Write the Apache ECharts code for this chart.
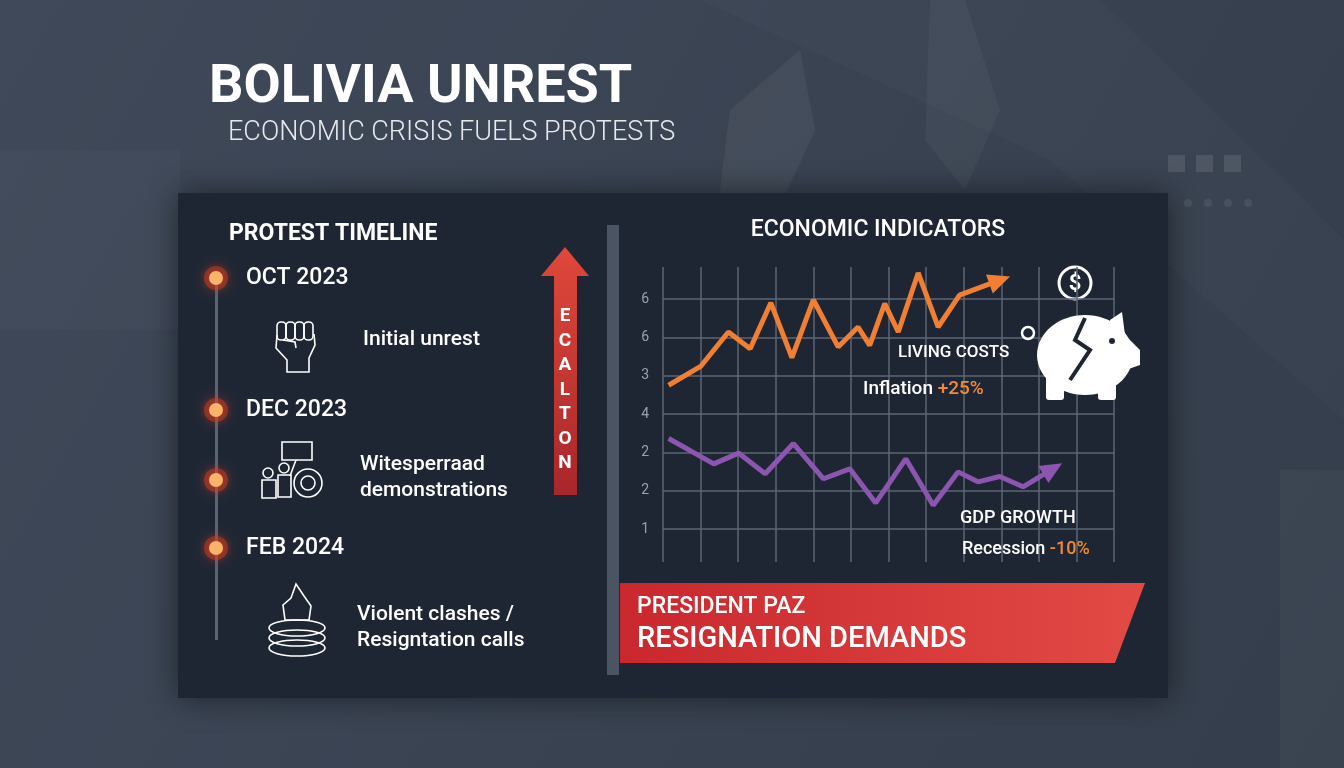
<!DOCTYPE html>
<html><head><meta charset="utf-8">
<script src="https://cdn.jsdelivr.net/npm/echarts@6/dist/echarts.min.js"></script>
<style>html,body{margin:0;padding:0;background:#3b4554}#c{width:1344px;height:768px}</style>
</head><body><div id="c"></div>
<script>
const yTickLabels = ['1','2','2','4','3','6','6'];
const livingCostsX = [0.15,1.0,1.74,2.32,2.87,3.43,4.0,4.66,5.19,5.5,5.9,6.26,6.79,7.32,7.89,8.96];
const livingCostsY = [4.75,5.24,6.14,5.70,6.90,5.47,6.98,5.75,6.27,5.79,6.88,6.14,7.68,6.27,7.10,7.49];
const gdpX = [0.15,1.35,2.01,2.72,3.47,4.27,4.97,5.66,6.46,7.19,7.85,8.38,8.96,9.58,10.37];
const gdpY = [3.36,2.70,2.98,2.44,3.23,2.31,2.57,1.68,2.83,1.62,2.49,2.23,2.37,2.10,2.57];
const timeline = [
  {date:'OCT 2023', y:278, label:['Initial unrest'], ly:340},
  {date:'DEC 2023', y:410, label:['Witesperraad','demonstrations'], ly:478},
  {date:'FEB 2024', y:548, label:['Violent clashes /','Resigntation calls'], ly:628}
];

function pairs(xs, ys, rot){
  return xs.map((x,i)=> i===xs.length-1 ? {value:[x,ys[i]], symbol:'triangle', symbolSize:[20,22], symbolRotate:rot} : [x,ys[i]]);
}
const F = 'Roboto, "Noto Sans", sans-serif';
const g = [];
g.push({type:'rect',shape:{x:0,y:0,width:1344,height:768},style:{fill:{type:'linear',x:0,y:0,x2:1,y2:1,colorStops:[{offset:0,color:'#3f4959'},{offset:1,color:'#343d4b'}]}},z:-10});
g.push({type:'polygon',shape:{points:[[0,150],[180,150],[180,330],[0,330]]},style:{fill:'rgba(255,255,255,0.02)'},z:-9});
g.push({type:'polygon',shape:{points:[[700,0],[1100,0],[1344,240],[1344,420],[1050,160]]},style:{fill:'rgba(255,255,255,0.02)'},z:-9});
g.push({type:'polygon',shape:{points:[[730,110],[800,50],[815,130],[760,250],[715,230]]},style:{fill:'rgba(255,255,255,0.05)'},z:-9});
g.push({type:'polygon',shape:{points:[[930,0],[965,0],[1000,110],[965,190],[925,140]]},style:{fill:'rgba(255,255,255,0.04)'},z:-9});
g.push({type:'polygon',shape:{points:[[1280,470],[1344,470],[1344,768],[1280,768]]},style:{fill:'rgba(255,255,255,0.03)'},z:-9});
[[1168,155],[1196,155],[1224,155]].forEach(p=>g.push({type:'rect',shape:{x:p[0],y:p[1],width:17,height:17},style:{fill:'rgba(255,255,255,0.1)'},z:-9}));
[1188,1208,1228,1248].forEach(x=>g.push({type:'circle',shape:{cx:x,cy:203,r:4},style:{fill:'rgba(255,255,255,0.08)'},z:-9}));
g.push({type:'rect',shape:{x:178,y:193,width:990,height:505},style:{fill:'#1f2633',shadowBlur:30,shadowColor:'rgba(0,0,0,0.5)'},z:-5});
g.push({type:'rect',shape:{x:607,y:225,width:12,height:450},style:{fill:'#4a5463'},z:-4});
g.push({type:'text',style:{text:'BOLIVIA UNREST',x:209,y:88,fill:'#fff',font:'bold 54px '+F,verticalAlign:'middle'}});
g.push({type:'text',style:{text:'ECONOMIC CRISIS FUELS PROTESTS',x:228,y:133,fill:'#e6e8ec',font:'300 27px '+F,verticalAlign:'middle'}});
g.push({type:'text',style:{text:'PROTEST TIMELINE',x:229,y:234,fill:'#fff',font:'bold 23px '+F,verticalAlign:'middle'}});
g.push({type:'rect',shape:{x:215,y:280,width:3,height:360},style:{fill:'#5a6372'},z:0});
[278,410,480,548].forEach(y=>{
  g.push({type:'circle',shape:{cx:216,cy:y,r:12},style:{fill:'rgba(220,60,30,0.45)',shadowBlur:10,shadowColor:'#e04020'},z:1});
  g.push({type:'circle',shape:{cx:216,cy:y,r:7},style:{fill:'#fbb36a'},z:2});
});
timeline.forEach((t,i)=>{
  g.push({type:'text',style:{text:t.date,x:246,y:t.y,fill:'#fff',font:'500 23px '+F,verticalAlign:'middle'}});
  g.push({type:'text',style:{text:t.label.join('\n'),x:i===0?363:(i===1?360:357),y:t.ly,fill:'#fff',font:'500 21px '+F,verticalAlign:'middle',lineHeight:26}});
});
const ic = {stroke:'#fff',fill:'none',lineWidth:1.6};
// fist
[0,1,2,3].forEach(k=>g.push({type:'rect',shape:{x:277+k*9,y:322,width:9,height:18,r:4},style:ic}));
g.push({type:'polyline',shape:{points:[[277,335],[276,348],[287,360],[287,372],[309,372],[309,358],[315,345],[314,334]]},style:ic});
g.push({type:'polyline',shape:{points:[[283,340],[295,342],[296,348]]},style:ic});
// demonstrators
g.push({type:'rect',shape:{x:282,y:442,width:30,height:18},style:ic});
g.push({type:'circle',shape:{cx:308,cy:483,r:14},style:ic});
g.push({type:'circle',shape:{cx:308,cy:483,r:7},style:ic});
g.push({type:'circle',shape:{cx:268,cy:473,r:5},style:ic});
g.push({type:'rect',shape:{x:262,y:480,width:14,height:18},style:ic});
g.push({type:'circle',shape:{cx:284,cy:468,r:5},style:ic});
g.push({type:'rect',shape:{x:278,y:475,width:13,height:22},style:ic});
g.push({type:'line',shape:{x1:290,y1:476,x2:296,y2:460},style:ic});
// fire
[0,1,2].forEach(k=>g.push({type:'ellipse',shape:{cx:297,cy:628+k*10,rx:28,ry:8},style:ic}));
g.push({type:'polygon',shape:{points:[[285,620],[283,605],[291,598],[296,584],[304,596],[311,606],[309,620]]},style:ic});
// escalation arrow
g.push({type:'polygon',shape:{points:[[541,276],[565,247],[589,276],[577,276],[577,495],[554,495],[554,276]]},style:{fill:{type:'linear',x:0,y:0,x2:0,y2:1,colorStops:[{offset:0,color:'#e0483a'},{offset:1,color:'#a8262c'}]}},z:1});
g.push({type:'text',style:{text:'E\nC\nA\nL\nT\nO\nN',x:565,y:390,fill:'#fff',font:'bold 19px '+F,align:'center',verticalAlign:'middle',lineHeight:24.5},z:2});
g.push({type:'text',style:{text:'ECONOMIC INDICATORS',x:878,y:230,fill:'#fff',font:'500 23px '+F,align:'center',verticalAlign:'middle'}});
g.push({type:'text',style:{text:'LIVING COSTS',x:898,y:353,fill:'#fff',font:'500 17px '+F,verticalAlign:'middle'},z:5});
g.push({type:'text',style:{rich:{a:{fill:'#fff',font:'500 19px '+F},b:{fill:'#f08a3a',font:'500 19px '+F}},text:'{a|Inflation }{b|+25%}',x:863,y:389,verticalAlign:'middle'},z:5});
g.push({type:'text',style:{text:'GDP GROWTH',x:960,y:518,fill:'#fff',font:'500 18px '+F,verticalAlign:'middle'},z:5});
g.push({type:'text',style:{rich:{a:{fill:'#fff',font:'500 18px '+F},b:{fill:'#f08a3a',font:'500 18px '+F}},text:'{a|Recession }{b|-10%}',x:962,y:549,verticalAlign:'middle'},z:5});
// piggy bank
g.push({type:'circle',shape:{cx:1075,cy:283,r:16},style:{stroke:'#fff',fill:'none',lineWidth:3}});
g.push({type:'text',style:{text:'$',x:1075,y:284,fill:'#fff',font:'bold 22px '+F,align:'center',verticalAlign:'middle'}});
g.push({type:'ellipse',shape:{cx:1085,cy:355,rx:48,ry:40},style:{fill:'#fff'},z:3});
g.push({type:'polygon',shape:{points:[[1110,320],[1122,312],[1125,335],[1140,350],[1140,365],[1120,372]]},style:{fill:'#fff'},z:3});
g.push({type:'rect',shape:{x:1046,y:375,width:18,height:25,r:3},style:{fill:'#fff'},z:3});
g.push({type:'rect',shape:{x:1098,y:375,width:18,height:25,r:3},style:{fill:'#fff'},z:3});
g.push({type:'circle',shape:{cx:1028,cy:333,r:6},style:{stroke:'#fff',fill:'none',lineWidth:2.5},z:3});
g.push({type:'polyline',shape:{points:[[1085,318],[1075,340],[1090,350],[1070,380]]},style:{stroke:'#1f2633',lineWidth:4,fill:'none'},z:4});
g.push({type:'circle',shape:{cx:1112,cy:341,r:3},style:{fill:'#1f2633'},z:4});
// banner
g.push({type:'polygon',shape:{points:[[620,583],[1145,583],[1115,663],[620,663]]},style:{fill:{type:'linear',x:0,y:0,x2:1,y2:0,colorStops:[{offset:0,color:'#c9282e'},{offset:1,color:'#e24a45'}]}},z:2});
g.push({type:'text',style:{text:'PRESIDENT PAZ',x:637,y:607,fill:'#fff',font:'500 23px '+F,verticalAlign:'middle'},z:3});
g.push({type:'text',style:{text:'RESIGNATION DEMANDS',x:637,y:640,fill:'#fff',font:'500 29px '+F,verticalAlign:'middle'},z:3});

const chart = echarts.init(document.getElementById('c'));
chart.setOption({
  animation:false,
  graphic:{elements:g},
  grid:[{left:663,right:230,top:299,bottom:239},{left:663,right:230,top:267,bottom:206}],
  xAxis:[
    {gridIndex:0,type:'value',min:0,max:12,show:false},
    {gridIndex:1,type:'value',min:0,max:12,interval:1,axisLine:{show:false},axisTick:{show:false},axisLabel:{show:false},splitLine:{show:true,lineStyle:{color:'#5d6675',width:1.5}}}
  ],
  yAxis:[
    {gridIndex:0,type:'value',min:1,max:7,interval:1,axisLine:{show:false},axisTick:{show:false},
     axisLabel:{color:'#9aa1ab',fontSize:14,fontFamily:F,margin:14,formatter:v=>yTickLabels[v-1]},
     splitLine:{lineStyle:{color:'#5d6675',width:1.5}}},
    {gridIndex:1,type:'value',min:0,max:1,show:false}
  ],
  series:[
    {type:'line',clip:false,xAxisIndex:0,yAxisIndex:0,data:pairs(livingCostsX,livingCostsY,-70),symbol:'none',lineStyle:{color:'#f07f33',width:5},itemStyle:{color:'#f07f33'},z:5},
    {type:'line',clip:false,xAxisIndex:0,yAxisIndex:0,data:pairs(gdpX,gdpY,-59),symbol:'none',lineStyle:{color:'#8b55b0',width:5},itemStyle:{color:'#8b55b0'},z:5}
  ]
});
</script></body></html>
